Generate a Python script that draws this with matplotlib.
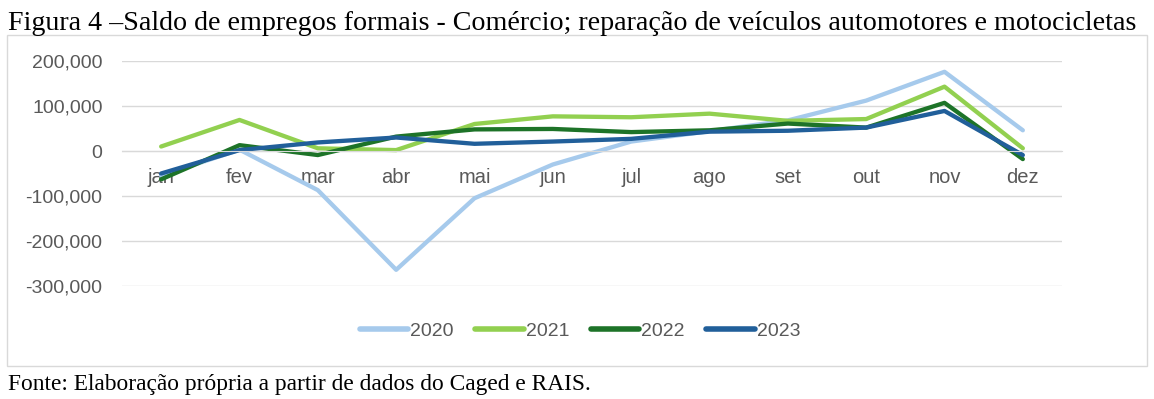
import matplotlib.pyplot as plt
from matplotlib.patches import Rectangle
from matplotlib.ticker import FuncFormatter

# monthly formal employment balance (saldo), commerce sector
meses = ['jan', 'fev', 'mar', 'abr', 'mai', 'jun', 'jul', 'ago', 'set', 'out', 'nov', 'dez']
saldo_2020 = [-55000, 3000, -87000, -264000, -105000, -30000, 21000, 44000, 68000, 112000, 176000, 46000]
saldo_2021 = [10000, 69000, 6000, 2000, 60000, 77000, 75000, 83000, 67000, 71000, 143000, 6000]
saldo_2022 = [-63000, 13000, -9000, 32000, 48000, 49000, 42000, 46000, 61000, 52000, 107000, -18000]
saldo_2023 = [-50000, 2000, 19000, 30000, 16000, 21000, 27000, 43000, 45000, 52000, 89000, -9000]

series = [('2020', saldo_2020, '#A6CAEC'),
          ('2021', saldo_2021, '#92D050'),
          ('2022', saldo_2022, '#1D7328'),
          ('2023', saldo_2023, '#215F9A')]

W, H = 1154, 399
fig = plt.figure(figsize=(W / 100, H / 100), dpi=100)

# outer chart frame
fig.patches.append(Rectangle((7 / W, 1 - 366 / H), 1140 / W, 331 / H,
                             transform=fig.transFigure, fill=False,
                             edgecolor='#D9D9D9', linewidth=1))

# plot area: x 122..1062, y 61 (200k) .. 286 (-300k)
ax = fig.add_axes([122 / W, 1 - 286 / H, 940 / W, 225 / H])
x = range(len(meses))
for nome, vals, cor in series:
    ax.plot(x, vals, color=cor, linewidth=3.1, label=nome, solid_capstyle='round')

ax.set_xlim(-0.5, len(meses) - 0.5)
ax.set_ylim(-300000, 200000)
ax.set_yticks(range(-300000, 200001, 100000))
ax.yaxis.set_major_formatter(FuncFormatter(lambda v, p: f'{int(v):,}'))
ax.grid(axis='y', color='#D9D9D9', linewidth=1)
ax.set_axisbelow(True)
for s in ['top', 'right', 'left']:
    ax.spines[s].set_visible(False)
ax.spines['bottom'].set_position(('data', 0))
ax.spines['bottom'].set_color('#D9D9D9')
ax.set_xticks(list(x))
ax.set_xticklabels(meses)
ax.tick_params(axis='x', length=0, pad=12, labelsize=14.5, labelcolor='#595959')
ax.tick_params(axis='y', length=0, pad=14, labelsize=14, labelcolor='#595959')
for lbl in ax.get_xticklabels() + ax.get_yticklabels():
    lbl.set_fontfamily('Liberation Sans')

leg = fig.legend(loc='center', bbox_to_anchor=(580 / W, 1 - 331 / H), ncol=4,
                 frameon=False, handlelength=2.5, columnspacing=1.1, handletextpad=0.1,
                 prop={'family': 'Liberation Sans', 'size': 14})
for t in leg.get_texts():
    t.set_color('#595959')
for h in leg.get_lines():
    h.set_linewidth(4)

fig.text(8 / W, 1 - 30 / H,
         'Figura 4 \u2013Saldo de empregos formais - Comércio; reparação de veículos automotores e motocicletas',
         family='Liberation Serif', fontsize=20.2, va='baseline', ha='left')
fig.text(8 / W, 1 - 390 / H, 'Fonte: Elaboração própria a partir de dados do Caged e RAIS.',
         family='Liberation Serif', fontsize=16.8, va='baseline', ha='left')

fig.savefig('out.png', dpi=100)
